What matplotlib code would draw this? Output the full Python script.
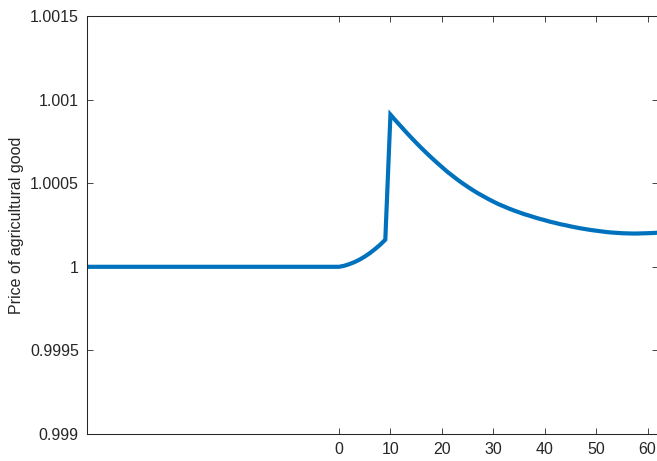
import matplotlib
matplotlib.use("Agg")
import matplotlib.pyplot as plt
from matplotlib.ticker import FuncFormatter
import numpy as np

plt.rcParams['font.family'] = ['Liberation Sans', 'DejaVu Sans']

# Data: periods relative to shock, price deviations (x1e-6) above 1
t_pre = list(range(-49, 10))
dev_pre = [0] * 49 + [0, 6, 16, 28, 43, 61, 82, 106, 132, 162]
t_post = list(range(10, 63))
dev_post = [910, 875, 841, 807, 774, 742, 711, 681, 652, 624,
            597, 570, 546, 522, 500, 479, 459, 440, 423, 406,
            390, 375, 362, 349, 337, 326, 315, 306, 296, 287,
            279, 270, 263, 255, 249, 242, 236, 230, 225, 220,
            216, 212, 208, 205, 203, 201, 200, 199, 199, 200,
            201, 202, 204]

t = np.array(t_pre + t_post)
price = 1 + np.array(dev_pre + dev_post) * 1e-6

x_ticks = [0, 10, 20, 30, 40, 50, 60]
y_ticks = [0.999, 0.9995, 1.0, 1.0005, 1.001, 1.0015]
ylabel = "Price of agricultural good"

fig = plt.figure(figsize=(6.57, 4.61), dpi=100)
ax = fig.add_axes([87.1 / 657, 27 / 461, 570.7 / 657, 418 / 461])
ax.plot(t, price, color='#0072BD', lw=3, solid_joinstyle='miter', solid_capstyle='butt')
ax.set_xlim(-49, 62)
ax.set_ylim(0.999, 1.0015)
ax.set_xticks(x_ticks)
ax.set_yticks(y_ticks)
ax.yaxis.set_major_formatter(FuncFormatter(lambda v, p: f"{v:g}"))
ax.tick_params(direction='in', length=4, width=0.6, colors='#262626',
               labelsize=11.5, top=True, right=True, pad=6)
for s in ax.spines.values():
    s.set_color('#262626')
    s.set_linewidth(0.75)
ax.set_ylabel(ylabel, fontsize=11.5, color='#262626', labelpad=4)

fig.savefig("out.png", dpi=100)
